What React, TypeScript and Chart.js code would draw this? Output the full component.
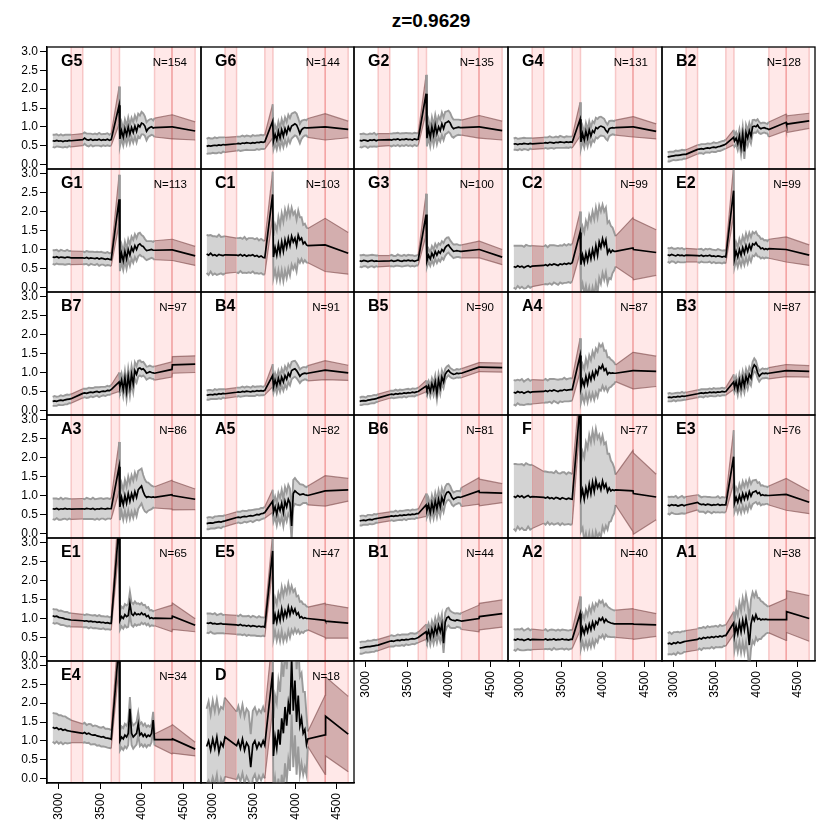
import React, { useEffect, useRef } from "react";
import { Chart, registerables } from "chart.js";

Chart.register(...registerables);

const FONT = "'Liberation Sans', Arial, Helvetica, sans-serif";

const TITLE = "z=0.9629";
const X_TICKS = [3000, 3500, 4000, 4500];
const Y_TICKS = [0, 0.5, 1, 1.5, 2, 2.5, 3];
const X_MIN = 2858;
const X_MAX = 4710;
const Y_MIN = -0.12;
const Y_MAX = 3.12;
const BANDS = [
  [3148, 3289],
  [3630, 3730],
  [4151, 4361],
  [4361, 4640],
];

// shared x sampling: dense 1 (10), dense 2 (15), spike top (1), dense 3 (22), tail (3)
const X_VALUES = [
  2926, 2950, 2975, 3000, 3025, 3050, 3075, 3100, 3125, 3148,
  3289, 3310, 3335, 3360, 3385, 3410, 3435, 3460, 3485, 3510, 3535, 3560, 3585, 3610, 3630,
  3725,
  3735, 3755, 3775, 3795, 3815, 3835, 3855, 3875, 3895, 3915, 3935, 3955, 3975, 3995, 4015, 4035, 4055, 4075, 4095, 4115, 4135, 4151,
  4361, 4366, 4640,
];

const PANEL_NAMES = ["G5", "G6", "G2", "G4", "B2", "G1", "C1", "G3", "C2", "E2", "B7", "B4", "B5", "A4", "B3", "A3", "A5", "B6", "F", "E3", "E1", "E5", "B1", "A2", "A1", "E4", "D"];
const PANEL_N = [154, 144, 135, 131, 128, 113, 103, 100, 99, 99, 97, 91, 90, 87, 87, 86, 82, 81, 77, 76, 65, 47, 44, 40, 38, 34, 18];

const G5_MEAN = [
  0.63, 0.62, 0.64, 0.62, 0.63, 0.61, 0.63, 0.62, 0.64, 0.63,
  0.66, 0.70, 0.66, 0.65, 0.67, 0.64, 0.66, 0.65, 0.67, 0.64, 0.66, 0.65, 0.67, 0.64, 0.66,
  1.57,
  0.68, 0.90, 0.72, 0.95, 0.78, 1.00, 0.80, 0.98, 0.85, 1.02, 0.88, 1.05, 1.00, 1.10, 1.08, 1.02, 0.88, 0.95, 0.98, 1.00, 0.97, 0.98,
  1.00, 1.00, 0.89,
];
const G5_SD = [
  0.16, 0.17, 0.16, 0.15, 0.17, 0.16, 0.16, 0.17, 0.15, 0.16,
  0.16, 0.15, 0.16, 0.17, 0.15, 0.16, 0.16, 0.15, 0.17, 0.16, 0.15, 0.16, 0.16, 0.15, 0.16,
  0.50,
  0.20, 0.22, 0.22, 0.24, 0.24, 0.25, 0.25, 0.26, 0.27, 0.28, 0.30, 0.30, 0.30, 0.30, 0.28, 0.26, 0.24, 0.22, 0.22, 0.21, 0.20, 0.25,
  0.32, 0.32, 0.24,
];

const G6_MEAN = [
  0.48, 0.50, 0.49, 0.50, 0.51, 0.50, 0.52, 0.51, 0.53, 0.52,
  0.55, 0.56, 0.55, 0.57, 0.56, 0.58, 0.57, 0.56, 0.58, 0.57, 0.59, 0.58, 0.60, 0.59, 0.60,
  1.15,
  0.62, 0.80, 0.65, 0.88, 0.70, 0.92, 0.75, 0.95, 0.82, 1.00, 0.90, 1.02, 1.05, 1.08, 1.05, 0.95, 0.82, 0.92, 0.96, 0.98, 0.97, 0.97,
  1.00, 1.00, 0.93,
];
const G6_SD = [
  0.20, 0.21, 0.20, 0.19, 0.21, 0.20, 0.20, 0.21, 0.19, 0.20,
  0.19, 0.18, 0.19, 0.20, 0.18, 0.19, 0.19, 0.18, 0.20, 0.19, 0.18, 0.19, 0.19, 0.18, 0.19,
  0.45,
  0.22, 0.24, 0.25, 0.26, 0.27, 0.28, 0.29, 0.30, 0.31, 0.32, 0.33, 0.33, 0.32, 0.31, 0.30, 0.28, 0.26, 0.24, 0.22, 0.21, 0.20, 0.25,
  0.35, 0.35, 0.22,
];

const G2_MEAN = [
  0.64, 0.63, 0.65, 0.64, 0.62, 0.65, 0.64, 0.66, 0.63, 0.65,
  0.66, 0.65, 0.67, 0.66, 0.68, 0.65, 0.67, 0.66, 0.68, 0.66, 0.67, 0.65, 0.68, 0.66, 0.67,
  1.88,
  0.70, 0.95, 0.72, 1.00, 0.78, 1.05, 0.82, 1.00, 0.90, 1.08, 0.95, 1.10, 1.12, 1.15, 1.10, 1.00, 0.95, 0.97, 0.98, 0.99, 0.98, 0.98,
  1.00, 1.00, 0.90,
];
const G2_SD = [
  0.17, 0.18, 0.17, 0.16, 0.18, 0.17, 0.17, 0.18, 0.16, 0.17,
  0.16, 0.17, 0.16, 0.17, 0.16, 0.17, 0.16, 0.17, 0.16, 0.17, 0.16, 0.17, 0.16, 0.17, 0.16,
  0.50,
  0.22, 0.23, 0.24, 0.25, 0.26, 0.27, 0.28, 0.28, 0.29, 0.30, 0.30, 0.30, 0.29, 0.28, 0.27, 0.26, 0.24, 0.22, 0.21, 0.20, 0.20, 0.20,
  0.30, 0.30, 0.25,
];

const G4_MEAN = [
  0.54, 0.55, 0.53, 0.55, 0.54, 0.56, 0.55, 0.54, 0.56, 0.55,
  0.57, 0.58, 0.57, 0.59, 0.58, 0.57, 0.59, 0.58, 0.60, 0.59, 0.58, 0.60, 0.59, 0.60, 0.59,
  1.20,
  0.60, 0.82, 0.65, 0.88, 0.70, 0.92, 0.75, 0.90, 0.85, 0.98, 0.95, 1.00, 1.02, 1.00, 0.98, 0.90, 0.85, 0.95, 0.97, 0.98, 0.97, 0.98,
  1.00, 1.00, 0.88,
];
const G4_SD = [
  0.15, 0.16, 0.15, 0.14, 0.16, 0.15, 0.15, 0.16, 0.14, 0.15,
  0.15, 0.14, 0.15, 0.16, 0.14, 0.15, 0.15, 0.14, 0.16, 0.15, 0.14, 0.15, 0.15, 0.14, 0.15,
  0.45,
  0.18, 0.20, 0.20, 0.22, 0.22, 0.23, 0.24, 0.25, 0.25, 0.26, 0.26, 0.26, 0.25, 0.24, 0.23, 0.22, 0.21, 0.20, 0.19, 0.18, 0.18, 0.20,
  0.27, 0.27, 0.20,
];

const B2_MEAN = [
  0.20, 0.21, 0.22, 0.23, 0.24, 0.24, 0.25, 0.26, 0.27, 0.27,
  0.40, 0.41, 0.42, 0.41, 0.43, 0.44, 0.43, 0.45, 0.46, 0.45, 0.47, 0.48, 0.50, 0.52, 0.54,
  0.72,
  0.62, 0.70, 0.55, 0.75, 0.45, 0.80, 0.35, 0.85, 0.70, 0.90, 0.75, 1.00, 1.02, 1.00, 1.05, 0.98, 0.95, 0.97, 0.98, 0.96, 0.95, 0.93,
  1.12, 1.07, 1.16,
];
const B2_SD = [
  0.12, 0.13, 0.12, 0.11, 0.13, 0.12, 0.12, 0.13, 0.11, 0.12,
  0.12, 0.11, 0.12, 0.13, 0.11, 0.12, 0.12, 0.11, 0.13, 0.12, 0.11, 0.12, 0.12, 0.11, 0.12,
  0.20,
  0.15, 0.16, 0.17, 0.18, 0.19, 0.20, 0.20, 0.20, 0.20, 0.20, 0.19, 0.18, 0.17, 0.16, 0.15, 0.15, 0.14, 0.14, 0.13, 0.13, 0.13, 0.20,
  0.22, 0.22, 0.20,
];

const G1_MEAN = [
  0.80, 0.79, 0.81, 0.78, 0.80, 0.79, 0.78, 0.80, 0.79, 0.78,
  0.78, 0.77, 0.79, 0.76, 0.78, 0.77, 0.76, 0.78, 0.75, 0.77, 0.76, 0.74, 0.76, 0.74, 0.73,
  2.32,
  0.65, 0.90, 0.70, 0.95, 0.75, 1.00, 0.85, 1.05, 0.95, 1.10, 1.00, 1.12, 1.15, 1.10, 1.08, 1.02, 0.97, 0.98, 0.99, 1.00, 0.98, 0.98,
  0.99, 0.99, 0.83,
];
const G1_SD = [
  0.18, 0.19, 0.18, 0.17, 0.19, 0.18, 0.18, 0.19, 0.17, 0.18,
  0.17, 0.16, 0.17, 0.18, 0.16, 0.17, 0.17, 0.16, 0.18, 0.17, 0.16, 0.17, 0.17, 0.16, 0.17,
  0.65,
  0.22, 0.23, 0.24, 0.25, 0.26, 0.27, 0.28, 0.29, 0.30, 0.30, 0.30, 0.30, 0.29, 0.28, 0.27, 0.26, 0.25, 0.24, 0.23, 0.22, 0.22, 0.25,
  0.28, 0.28, 0.25,
];

const C1_MEAN = [
  0.88, 0.85, 0.90, 0.84, 0.86, 0.83, 0.87, 0.85, 0.84, 0.86,
  0.85, 0.84, 0.87, 0.83, 0.86, 0.82, 0.85, 0.84, 0.86, 0.82, 0.84, 0.80, 0.83, 0.79, 0.78,
  2.45,
  0.80, 1.05, 0.85, 1.15, 0.90, 1.20, 0.95, 1.25, 1.05, 1.30, 1.10, 1.35, 1.20, 1.30, 1.10, 1.38, 1.25, 1.30, 1.15, 1.20, 1.12, 1.10,
  1.12, 1.12, 0.90,
];
const C1_SD = [
  0.50, 0.52, 0.48, 0.51, 0.49, 0.50, 0.52, 0.48, 0.50, 0.49,
  0.45, 0.46, 0.44, 0.45, 0.47, 0.44, 0.45, 0.46, 0.44, 0.45, 0.46, 0.44, 0.45, 0.45, 0.44,
  0.60,
  0.55, 0.60, 0.65, 0.70, 0.72, 0.75, 0.78, 0.80, 0.80, 0.80, 0.78, 0.75, 0.72, 0.70, 0.68, 0.65, 0.60, 0.55, 0.50, 0.48, 0.46, 0.45,
  0.70, 0.70, 0.55,
];

const G3_MEAN = [
  0.70, 0.69, 0.71, 0.70, 0.68, 0.70, 0.71, 0.69, 0.70, 0.69,
  0.70, 0.71, 0.69, 0.70, 0.72, 0.70, 0.69, 0.71, 0.70, 0.72, 0.70, 0.71, 0.69, 0.71, 0.72,
  1.92,
  0.70, 0.85, 0.75, 0.90, 0.80, 0.95, 0.85, 0.95, 0.90, 1.00, 0.95, 1.05, 1.10, 1.12, 1.05, 1.00, 0.95, 0.96, 0.97, 0.96, 0.95, 0.95,
  1.00, 1.00, 0.80,
];
const G3_SD = [
  0.15, 0.16, 0.15, 0.14, 0.16, 0.15, 0.15, 0.16, 0.14, 0.15,
  0.14, 0.15, 0.14, 0.13, 0.15, 0.14, 0.14, 0.15, 0.13, 0.14, 0.15, 0.14, 0.14, 0.13, 0.14,
  0.55,
  0.16, 0.17, 0.18, 0.19, 0.20, 0.20, 0.21, 0.21, 0.22, 0.22, 0.22, 0.22, 0.21, 0.20, 0.19, 0.18, 0.18, 0.17, 0.17, 0.16, 0.16, 0.17,
  0.22, 0.22, 0.20,
];

const C2_MEAN = [
  0.55, 0.53, 0.57, 0.54, 0.56, 0.52, 0.55, 0.57, 0.54, 0.56,
  0.58, 0.60, 0.57, 0.61, 0.59, 0.62, 0.60, 0.58, 0.62, 0.60, 0.63, 0.61, 0.64, 0.62, 0.65,
  1.45,
  0.60, 0.85, 0.65, 0.90, 0.70, 0.95, 0.75, 1.00, 0.80, 1.10, 0.85, 1.20, 1.05, 1.28, 1.10, 1.25, 0.90, 1.00, 0.92, 0.98, 0.95, 0.95,
  1.04, 1.00, 0.92,
];
const C2_SD = [
  0.55, 0.57, 0.53, 0.56, 0.54, 0.55, 0.57, 0.53, 0.55, 0.54,
  0.50, 0.51, 0.49, 0.50, 0.52, 0.49, 0.50, 0.51, 0.49, 0.50, 0.51, 0.49, 0.50, 0.50, 0.49,
  0.55,
  0.70, 0.75, 0.80, 0.85, 0.90, 0.95, 1.00, 1.00, 1.00, 1.00, 1.00, 0.95, 0.95, 0.90, 0.90, 0.85, 0.80, 0.75, 0.70, 0.60, 0.50, 0.40,
  0.80, 0.80, 0.60,
];

const E2_MEAN = [
  0.86, 0.84, 0.87, 0.85, 0.83, 0.86, 0.84, 0.85, 0.83, 0.85,
  0.84, 0.83, 0.85, 0.82, 0.84, 0.83, 0.85, 0.82, 0.83, 0.81, 0.83, 0.82, 0.80, 0.82, 0.80,
  2.55,
  0.75, 0.95, 0.80, 1.00, 0.85, 1.05, 0.90, 1.10, 0.95, 1.12, 1.00, 1.15, 1.12, 1.18, 1.10, 1.08, 1.02, 1.04, 1.00, 1.02, 1.00, 1.02,
  1.00, 1.00, 0.85,
];
const E2_SD = [
  0.18, 0.19, 0.18, 0.17, 0.19, 0.18, 0.18, 0.19, 0.17, 0.18,
  0.17, 0.18, 0.17, 0.16, 0.18, 0.17, 0.17, 0.18, 0.16, 0.17, 0.18, 0.17, 0.17, 0.16, 0.17,
  0.65,
  0.22, 0.24, 0.26, 0.28, 0.29, 0.30, 0.31, 0.32, 0.32, 0.32, 0.32, 0.31, 0.30, 0.29, 0.28, 0.27, 0.26, 0.25, 0.24, 0.23, 0.22, 0.25,
  0.33, 0.33, 0.27,
];

const B7_MEAN = [
  0.24, 0.25, 0.24, 0.26, 0.27, 0.26, 0.28, 0.29, 0.30, 0.31,
  0.45, 0.46, 0.45, 0.47, 0.48, 0.47, 0.49, 0.50, 0.48, 0.50, 0.51, 0.50, 0.53, 0.52, 0.55,
  0.75,
  0.62, 0.80, 0.55, 0.85, 0.50, 0.90, 0.60, 0.95, 0.70, 1.05, 0.95, 1.10, 1.12, 1.08, 1.10, 1.05, 0.98, 1.00, 1.02, 1.00, 0.99, 0.98,
  1.08, 1.20, 1.22,
];
const B7_SD = [
  0.12, 0.13, 0.12, 0.11, 0.13, 0.12, 0.12, 0.13, 0.11, 0.12,
  0.12, 0.11, 0.12, 0.13, 0.11, 0.12, 0.12, 0.11, 0.13, 0.12, 0.11, 0.12, 0.12, 0.11, 0.12,
  0.25,
  0.16, 0.17, 0.18, 0.19, 0.20, 0.21, 0.22, 0.22, 0.22, 0.22, 0.22, 0.21, 0.20, 0.19, 0.18, 0.17, 0.17, 0.16, 0.16, 0.16, 0.16, 0.18,
  0.20, 0.22, 0.22,
];

const B4_MEAN = [
  0.40, 0.41, 0.42, 0.41, 0.43, 0.42, 0.44, 0.43, 0.45, 0.44,
  0.48, 0.49, 0.48, 0.50, 0.49, 0.51, 0.50, 0.49, 0.51, 0.50, 0.52, 0.51, 0.52, 0.51, 0.53,
  0.92,
  0.62, 0.80, 0.65, 0.85, 0.70, 0.88, 0.75, 0.92, 0.82, 0.98, 0.90, 1.05, 1.08, 1.10, 1.05, 0.98, 0.90, 0.95, 0.97, 0.98, 0.97, 0.98,
  1.06, 1.06, 0.99,
];
const B4_SD = [
  0.12, 0.13, 0.12, 0.11, 0.13, 0.12, 0.12, 0.13, 0.11, 0.12,
  0.12, 0.11, 0.12, 0.13, 0.11, 0.12, 0.12, 0.11, 0.13, 0.12, 0.11, 0.12, 0.12, 0.11, 0.12,
  0.30,
  0.16, 0.18, 0.19, 0.20, 0.21, 0.22, 0.23, 0.24, 0.24, 0.24, 0.24, 0.23, 0.22, 0.21, 0.20, 0.19, 0.18, 0.17, 0.17, 0.16, 0.16, 0.20,
  0.25, 0.25, 0.20,
];

const B5_MEAN = [
  0.24, 0.25, 0.26, 0.25, 0.27, 0.28, 0.29, 0.30, 0.31, 0.33,
  0.42, 0.43, 0.42, 0.44, 0.43, 0.45, 0.44, 0.46, 0.45, 0.47, 0.46, 0.48, 0.47, 0.49, 0.50,
  0.64,
  0.55, 0.65, 0.50, 0.70, 0.55, 0.75, 0.45, 0.80, 0.60, 0.88, 0.75, 0.95, 1.02, 1.06, 1.00, 0.97, 0.95, 0.96, 0.98, 0.97, 0.98, 0.98,
  1.14, 1.14, 1.13,
];
const B5_SD = [
  0.10, 0.11, 0.10, 0.09, 0.11, 0.10, 0.10, 0.11, 0.09, 0.10,
  0.10, 0.09, 0.10, 0.11, 0.09, 0.10, 0.10, 0.09, 0.11, 0.10, 0.09, 0.10, 0.10, 0.09, 0.10,
  0.15,
  0.12, 0.13, 0.14, 0.15, 0.16, 0.17, 0.17, 0.17, 0.17, 0.17, 0.16, 0.15, 0.14, 0.13, 0.12, 0.12, 0.11, 0.11, 0.11, 0.11, 0.11, 0.12,
  0.12, 0.12, 0.12,
];

const A4_MEAN = [
  0.48, 0.46, 0.50, 0.47, 0.49, 0.45, 0.48, 0.50, 0.47, 0.49,
  0.50, 0.52, 0.50, 0.53, 0.51, 0.54, 0.52, 0.50, 0.53, 0.52, 0.55, 0.53, 0.54, 0.55, 0.55,
  1.45,
  0.60, 0.80, 0.65, 0.90, 0.70, 0.95, 0.80, 1.00, 0.85, 1.05, 0.95, 1.15, 1.10, 1.20, 1.05, 1.10, 0.95, 1.00, 0.98, 0.99, 0.98, 0.98,
  1.05, 1.05, 1.03,
];
const A4_SD = [
  0.32, 0.33, 0.31, 0.32, 0.34, 0.31, 0.32, 0.33, 0.31, 0.32,
  0.30, 0.31, 0.29, 0.30, 0.32, 0.29, 0.30, 0.31, 0.29, 0.30, 0.31, 0.29, 0.30, 0.30, 0.29,
  0.45,
  0.40, 0.42, 0.44, 0.46, 0.48, 0.50, 0.52, 0.55, 0.57, 0.58, 0.60, 0.60, 0.58, 0.55, 0.52, 0.48, 0.45, 0.40, 0.36, 0.32, 0.28, 0.22,
  0.48, 0.48, 0.40,
];

const B3_MEAN = [
  0.34, 0.35, 0.34, 0.36, 0.35, 0.37, 0.36, 0.38, 0.37, 0.38,
  0.44, 0.45, 0.46, 0.45, 0.47, 0.46, 0.48, 0.47, 0.48, 0.47, 0.49, 0.48, 0.50, 0.49, 0.50,
  0.75,
  0.60, 0.75, 0.55, 0.80, 0.60, 0.85, 0.65, 0.90, 0.75, 0.95, 0.85, 1.10, 1.20, 1.15, 1.00, 0.90, 0.95, 0.98, 0.97, 0.98, 0.97, 0.98,
  1.05, 1.05, 1.03,
];
const B3_SD = [
  0.10, 0.11, 0.10, 0.09, 0.11, 0.10, 0.10, 0.11, 0.09, 0.10,
  0.10, 0.09, 0.10, 0.11, 0.09, 0.10, 0.10, 0.09, 0.11, 0.10, 0.09, 0.10, 0.10, 0.09, 0.10,
  0.20,
  0.13, 0.14, 0.15, 0.16, 0.17, 0.18, 0.18, 0.19, 0.19, 0.19, 0.19, 0.18, 0.17, 0.16, 0.15, 0.14, 0.13, 0.13, 0.12, 0.12, 0.12, 0.15,
  0.16, 0.16, 0.15,
];

const A3_MEAN = [
  0.65, 0.64, 0.66, 0.63, 0.65, 0.64, 0.66, 0.64, 0.65, 0.64,
  0.65, 0.64, 0.66, 0.65, 0.64, 0.66, 0.63, 0.65, 0.64, 0.66, 0.65, 0.64, 0.66, 0.65, 0.65,
  1.76,
  0.70, 0.95, 0.75, 1.00, 0.80, 1.05, 0.85, 1.05, 0.90, 1.10, 0.95, 1.15, 1.20, 1.25, 1.10, 1.00, 0.95, 0.97, 0.96, 0.95, 0.96, 0.95,
  1.02, 1.00, 0.90,
];
const A3_SD = [
  0.27, 0.28, 0.26, 0.27, 0.29, 0.26, 0.27, 0.28, 0.26, 0.27,
  0.27, 0.26, 0.28, 0.27, 0.26, 0.28, 0.27, 0.26, 0.28, 0.27, 0.26, 0.28, 0.27, 0.26, 0.27,
  0.65,
  0.35, 0.37, 0.39, 0.41, 0.43, 0.45, 0.47, 0.48, 0.49, 0.50, 0.50, 0.50, 0.48, 0.46, 0.44, 0.42, 0.40, 0.37, 0.34, 0.31, 0.28, 0.28,
  0.38, 0.38, 0.27,
];

const A5_MEAN = [
  0.26, 0.27, 0.28, 0.27, 0.29, 0.30, 0.31, 0.30, 0.32, 0.33,
  0.42, 0.43, 0.42, 0.44, 0.45, 0.44, 0.46, 0.47, 0.46, 0.48, 0.50, 0.49, 0.52, 0.53, 0.55,
  0.85,
  0.55, 0.70, 0.50, 0.75, 0.60, 0.80, 0.55, 0.85, 0.70, 0.90, 0.80, 0.20, 1.05, 1.12, 1.08, 1.05, 1.02, 1.03, 1.04, 1.02, 1.01, 1.00,
  1.12, 1.12, 1.15,
];
const A5_SD = [
  0.15, 0.16, 0.15, 0.14, 0.16, 0.15, 0.15, 0.16, 0.14, 0.15,
  0.15, 0.14, 0.15, 0.16, 0.14, 0.15, 0.15, 0.14, 0.16, 0.15, 0.14, 0.15, 0.15, 0.14, 0.15,
  0.30,
  0.25, 0.27, 0.29, 0.31, 0.33, 0.35, 0.36, 0.37, 0.38, 0.38, 0.38, 0.38, 0.36, 0.34, 0.32, 0.30, 0.28, 0.26, 0.24, 0.22, 0.21, 0.25,
  0.40, 0.40, 0.30,
];

const B6_MEAN = [
  0.33, 0.34, 0.35, 0.34, 0.36, 0.37, 0.36, 0.38, 0.39, 0.40,
  0.45, 0.46, 0.45, 0.47, 0.46, 0.48, 0.47, 0.49, 0.48, 0.50, 0.49, 0.51, 0.50, 0.52, 0.52,
  0.75,
  0.60, 0.75, 0.55, 0.80, 0.60, 0.85, 0.65, 0.90, 0.70, 0.95, 0.80, 1.00, 1.08, 1.10, 1.05, 0.95, 0.90, 0.93, 0.95, 0.96, 0.95, 0.96,
  1.12, 1.08, 1.06,
];
const B6_SD = [
  0.12, 0.13, 0.12, 0.11, 0.13, 0.12, 0.12, 0.13, 0.11, 0.12,
  0.12, 0.11, 0.12, 0.13, 0.11, 0.12, 0.12, 0.11, 0.13, 0.12, 0.11, 0.12, 0.12, 0.11, 0.12,
  0.30,
  0.16, 0.18, 0.19, 0.20, 0.21, 0.22, 0.23, 0.24, 0.24, 0.24, 0.24, 0.23, 0.22, 0.21, 0.20, 0.19, 0.18, 0.17, 0.17, 0.16, 0.16, 0.25,
  0.35, 0.35, 0.25,
];

const F_MEAN = [
  0.98, 0.95, 1.00, 0.96, 0.99, 0.94, 0.97, 1.00, 0.95, 0.97,
  0.95, 0.93, 0.96, 0.92, 0.94, 0.91, 0.95, 0.93, 0.90, 0.94, 0.92, 0.90, 0.93, 0.91, 0.90,
  3.40,
  0.95, 1.15, 0.90, 1.20, 1.00, 1.30, 1.05, 1.35, 1.10, 1.40, 1.20, 1.30, 1.15, 1.38, 1.20, 1.30, 1.10, 1.20, 1.12, 1.15, 1.13, 1.15,
  1.12, 1.05, 0.96,
];
const F_SD = [
  0.85, 0.88, 0.82, 0.86, 0.84, 0.85, 0.88, 0.82, 0.85, 0.84,
  0.68, 0.70, 0.66, 0.69, 0.67, 0.68, 0.70, 0.66, 0.68, 0.67, 0.69, 0.66, 0.68, 0.68, 0.66,
  0.50,
  0.90, 1.00, 1.10, 1.20, 1.25, 1.30, 1.35, 1.35, 1.35, 1.35, 1.30, 1.30, 1.25, 1.20, 1.15, 1.10, 1.00, 0.90, 0.80, 0.70, 0.60, 0.40,
  1.07, 1.07, 0.60,
];

const E3_MEAN = [
  0.75, 0.73, 0.76, 0.74, 0.75, 0.72, 0.74, 0.76, 0.73, 0.75,
  0.82, 0.78, 0.76, 0.77, 0.75, 0.77, 0.76, 0.74, 0.76, 0.75, 0.77, 0.74, 0.76, 0.75, 0.75,
  2.02,
  0.80, 0.95, 0.82, 1.00, 0.85, 1.05, 0.90, 1.05, 0.92, 1.10, 0.98, 1.08, 1.10, 1.12, 1.05, 1.08, 1.00, 1.02, 1.00, 1.01, 1.00, 1.00,
  1.03, 1.03, 0.82,
];
const E3_SD = [
  0.22, 0.23, 0.21, 0.22, 0.24, 0.21, 0.22, 0.23, 0.21, 0.22,
  0.20, 0.21, 0.19, 0.20, 0.22, 0.19, 0.20, 0.21, 0.19, 0.20, 0.21, 0.19, 0.20, 0.20, 0.19,
  0.70,
  0.24, 0.26, 0.28, 0.30, 0.31, 0.32, 0.33, 0.33, 0.33, 0.33, 0.32, 0.31, 0.30, 0.29, 0.28, 0.27, 0.26, 0.25, 0.24, 0.23, 0.22, 0.25,
  0.42, 0.42, 0.30,
];

const E1_MEAN = [
  1.07, 1.05, 1.06, 1.03, 1.02, 1.01, 0.99, 0.98, 0.97, 0.96,
  0.94, 0.93, 0.94, 0.92, 0.93, 0.91, 0.92, 0.90, 0.91, 0.89, 0.90, 0.88, 0.89, 0.87, 0.87,
  3.50,
  0.95, 1.05, 1.00, 1.10, 1.05, 1.08, 1.40, 1.12, 1.08, 1.15, 1.10, 1.12, 1.10, 1.15, 1.10, 1.12, 1.05, 1.08, 1.00, 1.02, 1.00, 1.01,
  1.00, 1.06, 0.82,
];
const E1_SD = [
  0.18, 0.19, 0.18, 0.17, 0.19, 0.18, 0.18, 0.19, 0.17, 0.18,
  0.17, 0.16, 0.17, 0.18, 0.16, 0.17, 0.17, 0.16, 0.18, 0.17, 0.16, 0.17, 0.17, 0.16, 0.17,
  0.60,
  0.25, 0.26, 0.27, 0.28, 0.29, 0.30, 0.30, 0.30, 0.30, 0.30, 0.29, 0.28, 0.27, 0.26, 0.25, 0.24, 0.23, 0.22, 0.21, 0.20, 0.19, 0.20,
  0.35, 0.35, 0.17,
];

const E5_MEAN = [
  0.88, 0.87, 0.89, 0.86, 0.87, 0.85, 0.86, 0.87, 0.85, 0.85,
  0.83, 0.82, 0.84, 0.81, 0.82, 0.80, 0.82, 0.79, 0.81, 0.80, 0.78, 0.80, 0.78, 0.79, 0.77,
  2.78,
  0.85, 1.10, 0.90, 1.15, 0.95, 1.25, 1.00, 1.20, 1.05, 1.30, 1.10, 1.28, 1.15, 1.25, 1.10, 1.15, 1.02, 1.05, 1.00, 1.02, 1.00, 1.00,
  0.95, 0.93, 0.88,
];
const E5_SD = [
  0.25, 0.26, 0.24, 0.25, 0.27, 0.24, 0.25, 0.26, 0.24, 0.25,
  0.25, 0.24, 0.26, 0.25, 0.24, 0.26, 0.25, 0.24, 0.26, 0.25, 0.24, 0.26, 0.25, 0.24, 0.25,
  0.45,
  0.40, 0.44, 0.48, 0.52, 0.55, 0.58, 0.60, 0.62, 0.62, 0.62, 0.60, 0.58, 0.55, 0.52, 0.48, 0.45, 0.42, 0.40, 0.38, 0.35, 0.32, 0.30,
  0.45, 0.45, 0.40,
];

const B1_MEAN = [
  0.22, 0.23, 0.24, 0.25, 0.26, 0.26, 0.27, 0.28, 0.29, 0.30,
  0.40, 0.41, 0.40, 0.42, 0.43, 0.42, 0.44, 0.43, 0.45, 0.44, 0.46, 0.47, 0.46, 0.48, 0.50,
  0.65,
  0.55, 0.68, 0.50, 0.72, 0.55, 0.78, 0.60, 0.82, 0.65, 0.85, 0.35, 0.90, 1.02, 1.05, 0.98, 0.96, 0.95, 0.94, 0.96, 0.95, 0.94, 0.93,
  1.00, 1.05, 1.13,
];
const B1_SD = [
  0.15, 0.16, 0.15, 0.14, 0.16, 0.15, 0.15, 0.16, 0.14, 0.15,
  0.14, 0.15, 0.14, 0.13, 0.15, 0.14, 0.14, 0.15, 0.13, 0.14, 0.15, 0.14, 0.14, 0.13, 0.14,
  0.20,
  0.18, 0.19, 0.20, 0.21, 0.22, 0.23, 0.24, 0.25, 0.26, 0.26, 0.26, 0.25, 0.24, 0.23, 0.22, 0.21, 0.20, 0.19, 0.18, 0.18, 0.18, 0.22,
  0.35, 0.35, 0.36,
];

const A2_MEAN = [
  0.45, 0.43, 0.46, 0.44, 0.45, 0.42, 0.44, 0.46, 0.43, 0.45,
  0.44, 0.46, 0.43, 0.45, 0.44, 0.46, 0.43, 0.45, 0.44, 0.46, 0.44, 0.45, 0.43, 0.45, 0.45,
  1.13,
  0.55, 0.75, 0.60, 0.80, 0.65, 0.85, 0.70, 0.90, 0.75, 0.92, 0.85, 1.00, 0.95, 1.02, 0.90, 0.98, 0.92, 0.90, 0.88, 0.87, 0.86, 0.86,
  0.86, 0.85, 0.83,
];
const A2_SD = [
  0.27, 0.28, 0.26, 0.27, 0.29, 0.26, 0.27, 0.28, 0.26, 0.27,
  0.25, 0.26, 0.24, 0.25, 0.27, 0.24, 0.25, 0.26, 0.24, 0.25, 0.26, 0.24, 0.25, 0.25, 0.24,
  0.45,
  0.35, 0.37, 0.39, 0.41, 0.43, 0.45, 0.46, 0.47, 0.48, 0.48, 0.48, 0.47, 0.46, 0.45, 0.43, 0.41, 0.40, 0.38, 0.37, 0.36, 0.35, 0.36,
  0.40, 0.40, 0.30,
];

const A1_MEAN = [
  0.33, 0.35, 0.32, 0.36, 0.34, 0.38, 0.35, 0.37, 0.39, 0.40,
  0.45, 0.48, 0.46, 0.50, 0.48, 0.51, 0.49, 0.52, 0.50, 0.53, 0.51, 0.54, 0.52, 0.55, 0.55,
  0.88,
  0.55, 0.80, 0.60, 0.90, 0.65, 0.95, 0.70, 1.00, 0.75, 0.30, 0.85, 1.05, 0.95, 1.10, 0.98, 1.00, 0.96, 0.98, 0.97, 0.98, 0.97, 0.97,
  0.97, 1.18, 1.00,
];
const A1_SD = [
  0.28, 0.29, 0.27, 0.28, 0.30, 0.27, 0.28, 0.29, 0.27, 0.28,
  0.28, 0.27, 0.29, 0.28, 0.27, 0.29, 0.28, 0.27, 0.29, 0.28, 0.27, 0.29, 0.28, 0.27, 0.28,
  0.30,
  0.40, 0.44, 0.48, 0.52, 0.55, 0.58, 0.60, 0.62, 0.64, 0.65, 0.65, 0.64, 0.62, 0.60, 0.57, 0.54, 0.50, 0.46, 0.42, 0.38, 0.35, 0.35,
  0.55, 0.55, 0.60,
];

const E4_MEAN = [
  1.36, 1.33, 1.35, 1.30, 1.32, 1.28, 1.30, 1.27, 1.26, 1.25,
  1.20, 1.22, 1.18, 1.20, 1.17, 1.15, 1.16, 1.13, 1.12, 1.10, 1.11, 1.08, 1.07, 1.06, 1.04,
  3.60,
  1.00, 1.10, 1.05, 1.15, 1.10, 1.20, 1.85, 1.20, 1.10, 1.15, 1.20, 1.45, 1.15, 1.20, 1.12, 1.18, 1.10, 1.15, 1.12, 1.20, 1.55, 1.03,
  1.03, 1.05, 0.78,
];
const E4_SD = [
  0.38, 0.40, 0.37, 0.38, 0.36, 0.37, 0.35, 0.34, 0.32, 0.30,
  0.25, 0.26, 0.24, 0.25, 0.27, 0.24, 0.25, 0.26, 0.24, 0.25, 0.26, 0.24, 0.25, 0.25, 0.24,
  0.60,
  0.26, 0.28, 0.29, 0.30, 0.30, 0.31, 0.31, 0.31, 0.31, 0.30, 0.30, 0.30, 0.29, 0.29, 0.28, 0.28, 0.27, 0.26, 0.25, 0.24, 0.22, 0.15,
  0.38, 0.38, 0.18,
];

const D_MEAN = [
  0.85, 1.00, 0.75, 1.05, 0.80, 1.10, 0.70, 0.95, 0.85, 1.10,
  0.87, 1.00, 0.80, 1.05, 0.75, 0.95, 0.85, 0.30, 0.90, 1.00, 0.80, 0.95, 0.85, 1.00, 0.88,
  2.82,
  0.60, 1.10, 0.80, 1.30, 0.90, 1.60, 1.20, 1.90, 1.40, 2.00, 1.70, 3.20, 1.80, 2.60, 1.50, 2.20, 1.40, 1.60, 1.20, 1.30, 0.90, 1.05,
  1.16, 1.65, 1.18,
];
const D_SD = [
  1.00, 1.05, 0.95, 1.02, 0.98, 1.00, 1.05, 0.95, 1.00, 1.05,
  0.90, 0.92, 0.88, 0.91, 0.89, 0.90, 0.92, 0.88, 0.90, 0.89, 0.91, 0.88, 0.90, 0.90, 0.88,
  1.00,
  1.00, 1.10, 1.20, 1.30, 1.40, 1.50, 1.50, 1.50, 1.50, 1.50, 1.50, 1.50, 1.50, 1.45, 1.40, 1.35, 1.30, 1.20, 1.10, 1.00, 0.80, 0.20,
  1.05, 1.05, 1.00,
];

const MEANS = [G5_MEAN, G6_MEAN, G2_MEAN, G4_MEAN, B2_MEAN, G1_MEAN, C1_MEAN, G3_MEAN, C2_MEAN, E2_MEAN, B7_MEAN, B4_MEAN, B5_MEAN, A4_MEAN, B3_MEAN, A3_MEAN, A5_MEAN, B6_MEAN, F_MEAN, E3_MEAN, E1_MEAN, E5_MEAN, B1_MEAN, A2_MEAN, A1_MEAN, E4_MEAN, D_MEAN];
const SDS = [G5_SD, G6_SD, G2_SD, G4_SD, B2_SD, G1_SD, C1_SD, G3_SD, C2_SD, E2_SD, B7_SD, B4_SD, B5_SD, A4_SD, B3_SD, A3_SD, A5_SD, B6_SD, F_SD, E3_SD, E1_SD, E5_SD, B1_SD, A2_SD, A1_SD, E4_SD, D_SD];

// layout (page pixels)
const COL_EDGES = [47, 201, 354, 508, 662, 815];
const ROW_EDGES = [47, 169, 292, 415, 538, 661, 783];
const MARGIN = 4;
const X_AXIS_H = 52;

const GRAY_FILL = "#d3d3d3";
const GRAY_LINE = "#9a9a9a";
const BROWN_FILL = "rgba(140,80,80,0.38)";
const BROWN_LINE = "rgba(130,80,80,0.65)";

const isSparse = (c: any) =>
  c.p1.parsed.x - c.p0.parsed.x > 30 || c.p0.parsed.x >= 4150;

const bandsPlugin = {
  id: "pinkBands",
  beforeDraw(chart: any) {
    const { ctx, chartArea: a, scales } = chart;
    const x = scales.x;
    ctx.save();
    ctx.beginPath();
    ctx.rect(a.left, a.top, a.right - a.left, a.bottom - a.top);
    ctx.clip();
    for (const [x0, x1] of BANDS) {
      const p0 = x.getPixelForValue(x0);
      const p1 = x.getPixelForValue(x1);
      ctx.fillStyle = "rgba(255,0,0,0.09)";
      ctx.fillRect(p0, a.top, p1 - p0, a.bottom - a.top);
      ctx.strokeStyle = "rgba(220,60,60,0.24)";
      ctx.lineWidth = 1.5;
      ctx.beginPath();
      ctx.moveTo(p0, a.top);
      ctx.lineTo(p0, a.bottom);
      ctx.moveTo(p1, a.top);
      ctx.lineTo(p1, a.bottom);
      ctx.stroke();
    }
    ctx.restore();
  },
};

const framePlugin = {
  id: "panelFrame",
  afterDraw(chart: any) {
    const { ctx, chartArea: a } = chart;
    ctx.save();
    ctx.strokeStyle = "#000";
    ctx.lineWidth = 1.3;
    ctx.strokeRect(a.left, a.top, a.right - a.left, a.bottom - a.top);
    ctx.restore();
  },
};

function Panel({ idx }: { idx: number }) {
  const ref = useRef<HTMLCanvasElement | null>(null);
  const r = Math.floor(idx / 5);
  const c = idx % 5;
  const showY = c === 0;
  const showX = r === 5 || (r === 4 && c >= 2);
  const left = showY ? 0 : COL_EDGES[c] - MARGIN;
  const top = ROW_EDGES[r] - MARGIN;
  const width = COL_EDGES[c + 1] + MARGIN - left;
  const height = ROW_EDGES[r + 1] - top + (showX ? X_AXIS_H : MARGIN);

  useEffect(() => {
    const mean = MEANS[idx];
    const sd = SDS[idx];
    const meanPts = X_VALUES.map((x, i) => ({ x, y: mean[i] }));
    const upPts = X_VALUES.map((x, i) => ({ x, y: mean[i] + sd[i] }));
    const loPts = X_VALUES.map((x, i) => ({ x, y: mean[i] - sd[i] }));
    const tickFont = { family: FONT, size: 12 };
    const edgeSegment = {
      borderColor: (s: any) => (isSparse(s) ? BROWN_LINE : GRAY_LINE),
      borderWidth: (s: any) => (isSparse(s) ? 1.2 : 1.9),
    };

    const chart = new Chart(ref.current as HTMLCanvasElement, {
      type: "line",
      data: {
        datasets: [
          {
            data: meanPts,
            borderColor: "#000",
            borderWidth: 1.7,
            pointRadius: 0,
            fill: false,
            order: 0,
            clip: 0,
          },
          {
            data: upPts,
            borderColor: GRAY_LINE,
            backgroundColor: GRAY_FILL,
            borderWidth: 1.5,
            pointRadius: 0,
            fill: "+1",
            order: 1,
            clip: 0,
            segment: {
              ...edgeSegment,
              backgroundColor: (s: any) => (isSparse(s) ? BROWN_FILL : GRAY_FILL),
            },
          },
          {
            data: loPts,
            borderColor: GRAY_LINE,
            borderWidth: 1.5,
            pointRadius: 0,
            fill: false,
            order: 2,
            clip: 0,
            segment: edgeSegment,
          },
        ],
      },
      options: {
        animation: false,
        responsive: false,
        events: [],
        layout: {
          padding: {
            left: showY ? 0 : MARGIN,
            right: MARGIN,
            top: MARGIN,
            bottom: showX ? 0 : MARGIN,
          },
        },
        plugins: {
          legend: { display: false },
          tooltip: { enabled: false },
          filler: { drawTime: "beforeDatasetsDraw", propagate: false },
        },
        scales: {
          x: {
            type: "linear",
            min: X_MIN,
            max: X_MAX,
            display: showX,
            afterBuildTicks: (s: any) => {
              s.ticks = X_TICKS.map((v) => ({ value: v }));
            },
            afterFit: (s: any) => {
              if (showX) {
                s.height = X_AXIS_H;
                s.paddingLeft = 0;
                s.paddingRight = 0;
              }
            },
            ticks: {
              autoSkip: false,
              minRotation: 90,
              maxRotation: 90,
              padding: 4,
              color: "#000",
              font: tickFont,
              callback: (v: any) => String(v),
            },
            grid: {
              drawOnChartArea: false,
              drawTicks: true,
              tickLength: 6,
              color: "#000",
              lineWidth: 1,
            },
            border: { display: true, color: "#000", width: 1.3 },
          },
          y: {
            type: "linear",
            min: Y_MIN,
            max: Y_MAX,
            display: showY,
            afterBuildTicks: (s: any) => {
              s.ticks = Y_TICKS.map((v) => ({ value: v }));
            },
            afterFit: (s: any) => {
              if (showY) {
                s.width = COL_EDGES[0];
                s.paddingTop = 0;
                s.paddingBottom = 0;
              }
            },
            ticks: {
              autoSkip: false,
              padding: 2,
              color: "#000",
              font: tickFont,
              callback: (v: any) => Number(v).toFixed(1),
            },
            grid: {
              drawOnChartArea: false,
              drawTicks: true,
              tickLength: 7,
              color: "#000",
              lineWidth: 1,
            },
            border: { display: true, color: "#000", width: 1.3 },
          },
        },
      } as any,
      plugins: [bandsPlugin, framePlugin],
    } as any);
    return () => chart.destroy();
  }, [idx]);

  return (
    <canvas
      ref={ref}
      width={width}
      height={height}
      style={{ position: "absolute", left, top, width, height, display: "block" }}
    />
  );
}

export default function App() {
  const ids = PANEL_NAMES.map((_, i) => i);
  return (
    <div
      style={{
        position: "absolute",
        left: 0,
        top: 0,
        width: 830,
        height: 830,
        background: "#fff",
        fontFamily: FONT,
        overflow: "hidden",
      }}
    >
      <div
        style={{
          position: "absolute",
          left: 231,
          top: 11,
          width: 400,
          textAlign: "center",
          fontSize: 19,
          lineHeight: "19px",
          fontWeight: "bold",
          color: "#000",
        }}
      >
        {TITLE}
      </div>
      {ids.map((i) => (
        <Panel key={i} idx={i} />
      ))}
      {ids.map((i) => {
        const r = Math.floor(i / 5);
        const c = i % 5;
        return (
          <React.Fragment key={"lab" + i}>
            <div
              style={{
                position: "absolute",
                left: COL_EDGES[c] + 14,
                top: ROW_EDGES[r] + 6,
                fontSize: 16,
                lineHeight: "16px",
                fontWeight: "bold",
                color: "#000",
                whiteSpace: "nowrap",
              }}
            >
              {PANEL_NAMES[i]}
            </div>
            <div
              style={{
                position: "absolute",
                left: COL_EDGES[c + 1] - 14 - 80,
                width: 80,
                textAlign: "right",
                top: ROW_EDGES[r] + 10,
                fontSize: 11.5,
                lineHeight: "11.5px",
                color: "#000",
                whiteSpace: "nowrap",
              }}
            >
              {"N=" + PANEL_N[i]}
            </div>
          </React.Fragment>
        );
      })}
    </div>
  );
}
